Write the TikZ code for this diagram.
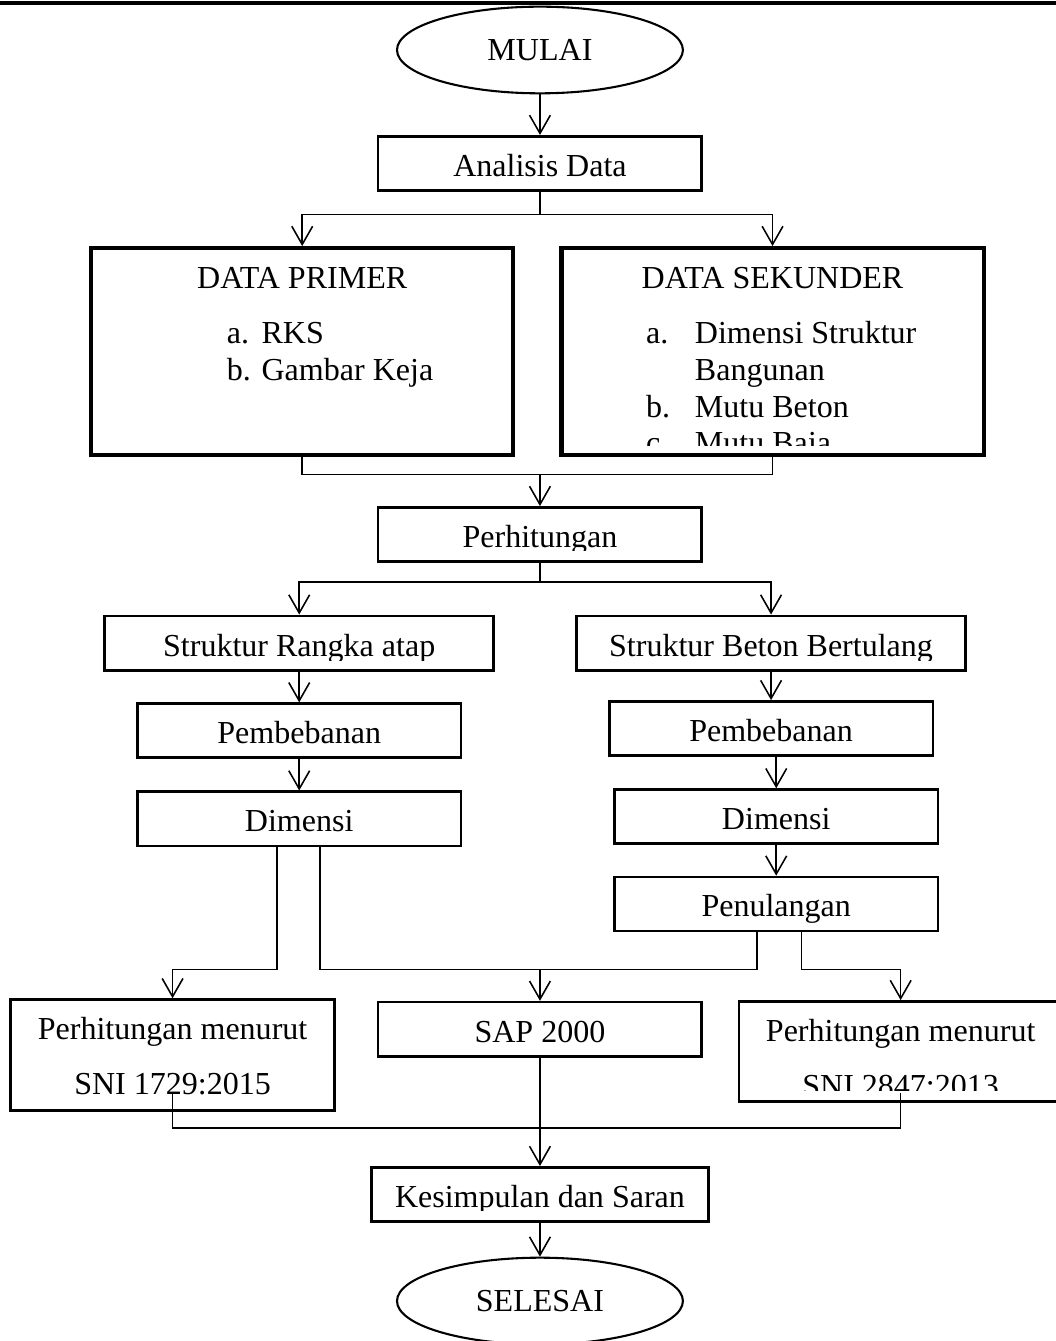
\documentclass[tikz,border=0pt]{standalone}
\usepackage{fontspec}
\setmainfont{Liberation Serif}
\usetikzlibrary{shapes.geometric, arrows.meta, positioning}
\tikzset{
>={Straight Barb[length=7pt, width=8pt]}, % open arrow heads
node distance=1.2cm, % distance between node centres, changed per node
}
\tikzstyle{terminal} = [draw, ellipse, line width=0.8pt, minimum width=3.86cm,
    minimum height=1.17cm, inner sep=0pt]
\tikzstyle{block} = [rectangle, draw, line width=1pt, minimum width=4.37cm,
    minimum height=0.73cm, text height=0.35cm, text depth=0pt]
\tikzstyle{wideblock} = [block, minimum width=5.25cm, minimum height=0.74cm]
\tikzstyle{datablock} = [rectangle, draw, line width=1.6pt, minimum width=5.70cm,
    minimum height=2.79cm]
\tikzstyle{listtext} = [anchor=base west, inner sep=0pt]
\tikzstyle{line} = [draw, line width=0.6pt, ->]

\begin{document}
\begin{tikzpicture}[font=\fontsize{12.3}{14.2}\selectfont, line width=0.6pt]
\useasboundingbox (-7.29,0.675) rectangle (6.966,-17.43);
\draw [line width=1.5pt] (-7.29,0.635) -- (6.966,0.635);

\node [terminal] (mulai) {MULAI};
\node [block, below of=mulai, node distance=1.53cm] (analisis) {Analisis Data};
\node [datablock, below of=analisis, node distance=2.54cm, xshift=-3.21cm] (primer) {};
\node [datablock, right of=primer, node distance=6.35cm] (sekunder) {};
\node [anchor=base] (primerhead) at ([yshift=-0.57cm]primer.north) {DATA PRIMER};
\node [listtext] (primerlist) at ([xshift=1.85cm, yshift=-1.31cm]primer.north west)
  {\begin{tabular}[t]{@{}p{0.47cm}@{}l@{}}a. & RKS\\ b. & Gambar Keja\end{tabular}};
\node [anchor=base] (sekunderhead) at ([yshift=-0.57cm]sekunder.north) {DATA SEKUNDER};
\begin{scope}
\clip (sekunder.north west) rectangle ([yshift=0.16cm]sekunder.south east);
\node [listtext] (sekunderlist) at ([xshift=1.16cm, yshift=-1.31cm]sekunder.north west)
  {\begin{tabular}[t]{@{}p{0.66cm}@{}l@{}}a. & Dimensi Struktur\\ & Bangunan\\
   b. & Mutu Beton\\ c. & Mutu Baja\end{tabular}};
\end{scope}

\node [block, below of=analisis, node distance=5.01cm] (hitung) {};
\begin{scope}
\clip (hitung.north west) rectangle ([yshift=0.17cm]hitung.south east);
\node [block, draw=none] (hitungtext) at (hitung) {Perhitungan};
\end{scope}

\node [wideblock, below of=hitung, node distance=1.47cm, xshift=-3.25cm] (rangka) {};
\node [wideblock, right of=rangka, node distance=6.37cm] (beton) {};
\begin{scope}
\clip (rangka.north west) rectangle ([yshift=0.16cm]beton.south east);
\node [wideblock, draw=none] (rangkatext) at (rangka) {Struktur Rangka atap};
\node [wideblock, draw=none] (betontext) at (beton) {Struktur Beton Bertulang};
\end{scope}

\node [block, below of=rangka, node distance=1.18cm] (bebanL) {Pembebanan};
\node [block, below of=bebanL, node distance=1.19cm] (dimL) {Dimensi};
\node [block, below of=beton, node distance=1.15cm] (bebanR) {Pembebanan};
\node [block, below of=bebanR, node distance=1.19cm, xshift=0.07cm] (dimR) {Dimensi};
\node [block, below of=dimR, node distance=1.18cm] (tulang) {Penulangan};

\node [block, below of=hitung, node distance=6.68cm] (sap) {SAP 2000};
\node [block, left of=sap, node distance=4.96cm, yshift=-0.35cm, minimum height=1.50cm,
  text depth=0.77cm] (sniL)
  {\begin{tabular}[t]{@{}c@{}}Perhitungan menurut\\[6.9pt] SNI 1729:2015\end{tabular}};
\node [block, right of=sap, node distance=4.87cm, yshift=-0.30cm, minimum height=1.35cm] (sniR) {};
\begin{scope}
\clip (sniR.north west) rectangle ([yshift=0.16cm]sniR.south east);
\node [block, draw=none, text depth=0.62cm] (sniRtext) at (sniR)
  {\begin{tabular}[t]{@{}c@{}}Perhitungan menurut\\[6.9pt] SNI 2847:2013\end{tabular}};
\end{scope}

\node [block, below of=sap, node distance=2.23cm, minimum width=4.55cm] (kesimpulan) {};
\begin{scope}
\clip (kesimpulan.north west) rectangle ([yshift=0.16cm]kesimpulan.south east);
\node [block, draw=none] (kesimpulantext) at (kesimpulan) {Kesimpulan dan Saran};
\end{scope}
\node [terminal, below of=kesimpulan, node distance=1.44cm] (selesai) {SELESAI};

  \path [line] (mulai) -- (analisis);
  \draw (analisis.south) -- ++(0,-0.31) coordinate (split1);
  \path [line] (split1) -| (primer.north);
  \path [line] (split1) -| (sekunder.north);
  \draw (primer.south) -- ++(0,-0.24) coordinate (join1) -| (sekunder.south);
  \path [line] (join1 -| hitung.north) -- (hitung.north);
  \draw (hitung.south) -- ++(0,-0.26) coordinate (split2);
  \path [line] (split2) -| (rangka.north);
  \path [line] (split2) -| (beton.north);

  \path [line] (rangka) -- (bebanL);
  \path [line] (bebanL) -- (dimL);
  \path [line] (beton) -- (bebanR);
  \path [line] (bebanR.south -| dimR.north) -- (dimR.north);
  \path [line] (dimR) -- (tulang);

  \path [line] ([xshift=-0.30cm]dimL.south) -- ++(0,-1.65) -| (sniL.north);
  \draw ([xshift=0.28cm]dimL.south) -- ++(0,-1.65) coordinate (join2)
    -| ([xshift=-0.26cm]tulang.south);
  \path [line] (join2 -| sap.north) -- (sap.north);
  \coordinate (tulangout) at ([xshift=0.34cm]tulang.south);
  \path [line] (tulangout) -- (tulangout |- join2) -| (sniR.north);

  \draw ([yshift=0.24cm]sniL.south) -- ++(0,-0.46) -| ([yshift=0.13cm]sniR.south);
  \path [line] (sap) -- (kesimpulan);
  \path [line] (kesimpulan) -- (selesai);
\end{tikzpicture}
\end{document}
